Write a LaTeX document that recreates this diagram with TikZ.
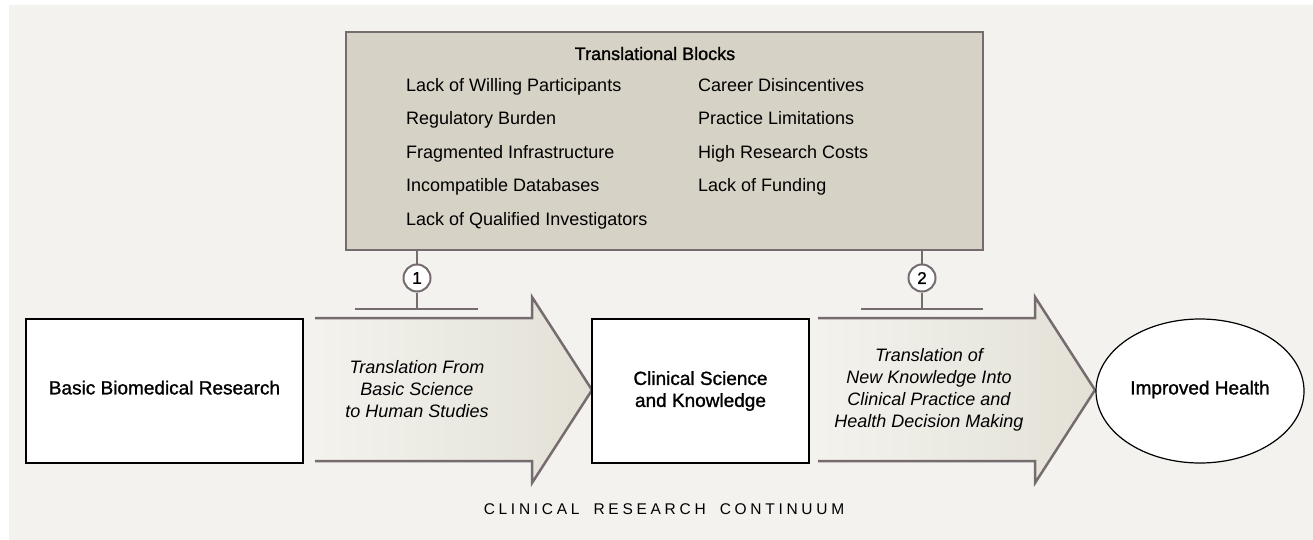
\documentclass[tikz,border=0pt]{standalone}
\usepackage{fontspec}
\setmainfont{Liberation Sans}
\newfontfamily\medfont[FakeBold=1.2]{Liberation Sans}
\usetikzlibrary{shapes.geometric}
\definecolor{bgc}{HTML}{F3F2EE}
\definecolor{blockfill}{HTML}{D6D2C6}
\definecolor{edgec}{HTML}{766C6F}
\definecolor{arrowL}{HTML}{F3F2ED}
\definecolor{arrowR}{HTML}{E3E1D6}
\tikzset{
  blockbox/.style={draw=edgec, fill=blockfill, line width=2pt, rectangle, inner sep=0pt},
  whitebox/.style={draw=black, fill=white, line width=1.2pt, rectangle, inner sep=0pt,
     minimum width=277pt, minimum height=144pt, font=\fontsize{19}{22}\selectfont\medfont, align=center},
  oval/.style={draw=black, fill=white, line width=1.2pt, ellipse, inner sep=0pt,
     minimum width=208pt, minimum height=144pt, font=\fontsize{19}{22}\selectfont\medfont, text depth=7pt},
  listitem/.style={anchor=base west, inner sep=0pt, font=\fontsize{18}{22}\selectfont},
  titletext/.style={anchor=base, inner sep=0pt, font=\fontsize{18}{22}\selectfont\medfont},
  numcircle/.style={circle, draw=edgec, fill=white, line width=2pt, minimum size=27pt, inner sep=0pt,
     font=\fontsize{17}{18}\selectfont\medfont},
  conn/.style={draw=edgec, line width=2pt},
  bigarrow/.style={draw=edgec, line width=2.5pt, line join=miter},
  arrowtext/.style={align=center, inner sep=0pt, font=\fontsize{18}{22}\selectfont\itshape},
  footer/.style={anchor=base, inner sep=0pt, font=\fontsize{15.5}{18}\selectfont\addfontfeature{LetterSpace=24}}
}
\begin{document}
\begin{tikzpicture}[x=1pt,y=-1pt]
\useasboundingbox (0,0) rectangle (1313,540);
\fill[white] (0,0) rectangle (1313,540);
\fill[bgc] (9,5) rectangle (1313,540);

% Translational blocks box
\node[blockbox, minimum width=637pt, minimum height=218pt] (blocks) at (664.5,141) {};
\node[titletext] (title) at (655,60) {Translational Blocks};
\node[listitem] (l1) at (406,91.7) {Lack of Willing Participants};
\node[listitem] (l2) at (406,125) {Regulatory Burden};
\node[listitem] (l3) at (406,158.3) {Fragmented Infrastructure};
\node[listitem] (l4) at (406,191.7) {Incompatible Databases};
\node[listitem] (l5) at (406,225) {Lack of Qualified Investigators};
\node[listitem] (r1) at (698,91.7) {Career Disincentives};
\node[listitem] (r2) at (698,125) {Practice Limitations};
\node[listitem] (r3) at (698,158.3) {High Research Costs};
\node[listitem] (r4) at (698,191.7) {Lack of Funding};

% Big arrows
\shade[left color=arrowL, right color=arrowR]
  (315,318) -- (532,318) -- (532,297) -- (592,390) -- (532,483) -- (532,461) -- (315,461) -- cycle;
\draw[bigarrow] (315,318) -- (532,318) -- (532,297) -- (592,390) -- (532,483) -- (532,461) -- (315,461);
\shade[left color=arrowL, right color=arrowR]
  (818,318) -- (1035,318) -- (1035,297) -- (1095,390) -- (1035,483) -- (1035,461) -- (818,461) -- cycle;
\draw[bigarrow] (818,318) -- (1035,318) -- (1035,297) -- (1095,390) -- (1035,483) -- (1035,461) -- (818,461);
\node[arrowtext] (t1) at (417,389) {Translation From\\Basic Science\\to Human Studies};
\node[arrowtext] (t2) at (929,390) {Translation of\\New Knowledge Into\\Clinical Practice and\\Health Decision Making};

% Boxes
\node[whitebox, text depth=7pt] (bbr) at (164.5,391) {Basic Biomedical Research};
\node[whitebox, minimum width=217pt] (csk) at (700.5,391) {Clinical Science\\and Knowledge};
\node[oval] (ih) at (1200,391) {Improved Health};

% Blocking connectors
\node[numcircle] (c1) at (417,278) {1};
\node[numcircle] (c2) at (922,278) {2};
\coordinate (b1) at (417,309);
\coordinate (b1l) at (355,309);
\coordinate (b1r) at (478,309);
\coordinate (b2) at (922,309);
\coordinate (b2l) at (861,309);
\coordinate (b2r) at (983,309);
\draw[conn] (blocks.south -| c1) -- (c1.north);
\draw[conn] (c1.south) -- (b1);
\draw[conn] (b1l) -- (b1r);
\draw[conn] (blocks.south -| c2) -- (c2.north);
\draw[conn] (c2.south) -- (b2);
\draw[conn] (b2l) -- (b2r);

% Footer
\node[footer] (foot) at (664,514) {CLINICAL\hspace{6pt} RESEARCH\hspace{6pt} CONTINUUM};
\end{tikzpicture}
\end{document}
